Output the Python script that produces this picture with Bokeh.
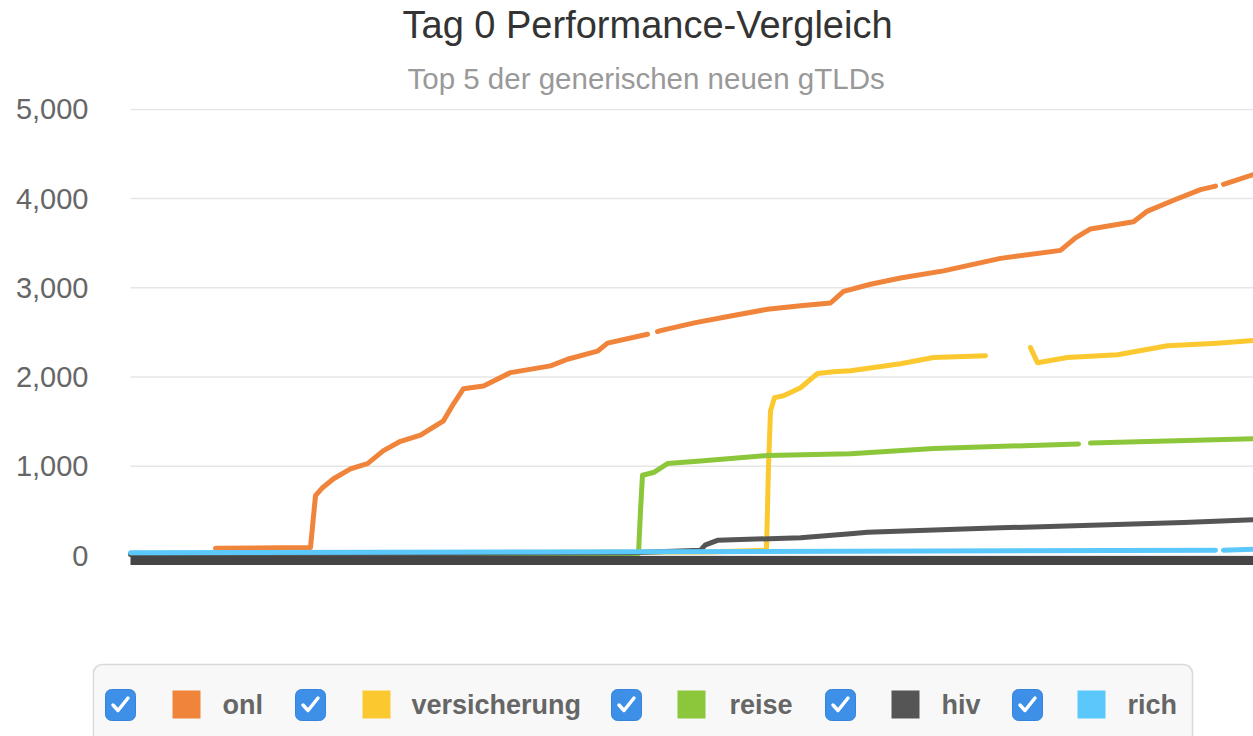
import math
from bokeh.plotting import figure
from bokeh.models import Range1d, NumeralTickFormatter, FixedTicker, Title
from bokeh.layouts import column
from bokeh.embed import file_html
from bokeh.resources import INLINE
from bokeh.core.properties import value

nan = float("nan")

# ---------------- data (x: time steps, y: registrations) ----------------
series_names = ["onl", "versicherung", "reise", "hiv", "rich"]
series_colors = ["#f0843a", "#fbc92f", "#8cc63a", "#555555", "#5ac8fa"]

onl_x = [8.5, 18.0, 18.5, 19.2, 20.3, 22.0, 23.7, 25.3, 27.0, 29.0, 31.3, 32.3, 33.3, 35.3,
         38.0, 42.0, 43.7, 46.7, 47.7, 51.7, 52.2, 52.7, 53.0, 56.5, 60.3, 63.7, 67.0, 70.0,
         71.3, 74.0, 77.0, 81.3, 87.0, 93.0, 94.5, 96.0, 100.3, 101.7, 104.5, 107.0, 108.5,
         109.0, 109.3, 112.3]
onl_y = [80, 90, 670, 760, 860, 970, 1030, 1175, 1280, 1350, 1510, 1700, 1870, 1900,
         2050, 2125, 2200, 2290, 2380, 2480, nan, 2510, 2520, 2610, 2690, 2760, 2800, 2830,
         2960, 3040, 3110, 3190, 3330, 3420, 3560, 3660, 3740, 3860, 3990, 4100, 4140,
         nan, 4160, 4270]

versicherung_x = [0.0, 58.0, 63.6, 63.8, 64.0, 64.4, 65.3, 67.0, 68.7, 70.3, 72.0, 77.0, 80.3,
                  85.5, 87.0, 90.0, 90.7, 93.7, 98.7, 103.7, 108.7, 112.3]
versicherung_y = [20, 40, 60, 1000, 1620, 1770, 1790, 1880, 2040, 2060, 2070, 2150, 2220,
                  2240, nan, 2330, 2160, 2220, 2250, 2350, 2380, 2410]

reise_x = [0.0, 50.8, 51.0, 51.2, 52.3, 53.7, 57.0, 63.7, 72.0, 80.3, 94.8, 95.4, 96.0, 112.3]
reise_y = [10, 20, 500, 900, 930, 1030, 1060, 1120, 1140, 1200, 1250, nan, 1260, 1310]

hiv_x = [0.0, 50.0, 57.0, 57.5, 58.7, 67.0, 72.0, 73.7, 87.0, 105.3, 112.3]
hiv_y = [10, 30, 60, 120, 170, 200, 245, 260, 310, 370, 400]

rich_x = [0.0, 40.0, 80.0, 108.5, 109.0, 109.3, 112.3]
rich_y = [30, 40, 50, 60, nan, 60, 70]

series_x = [onl_x, versicherung_x, reise_x, hiv_x, rich_x]
series_y = [onl_y, versicherung_y, reise_y, hiv_y, rich_y]

x_start, x_end = 0.0, 112.3
y_ticks = [0, 1000, 2000, 3000, 4000, 5000]

title_text = "Tag 0 Performance-Vergleich"
subtitle_text = "Top 5 der generischen neuen gTLDs"

FONT = "Liberation Sans"

# ---------------- main chart ----------------
p = figure(width=1253, height=656, output_backend="svg", toolbar_location=None,
           x_range=Range1d(-3.8, x_end), y_range=Range1d(-56, 5010),
           min_border_left=92, min_border_right=0, min_border_top=108, min_border_bottom=96,
           outline_line_color=None, background_fill_color="white", border_fill_color="white")

sub = Title(text=subtitle_text, align="left", offset=315, text_font=FONT,
            text_font_size="29.5px", text_font_style="normal", text_color="#999999", standoff=28)
ttl = Title(text=title_text, align="left", offset=310, text_font=FONT,
            text_font_size="38px", text_font_style="normal", text_color="#333333", standoff=0)
p.add_layout(sub, "above")
p.add_layout(ttl, "above")

# horizontal grid lines over the plotted x-extent
p.segment(x0=[x_start] * len(y_ticks), x1=[x_end] * len(y_ticks), y0=y_ticks, y1=y_ticks,
          line_color="#e6e6e6", line_width=1.5)

for xs, ys, c in zip(series_x, series_y, series_colors):
    p.line(xs, ys, line_color=c, line_width=5, line_join="round", line_cap="round")

p.yaxis.ticker = FixedTicker(ticks=y_ticks)
p.yaxis.formatter = NumeralTickFormatter(format="0,0")
p.yaxis.axis_line_color = None
p.yaxis.major_tick_line_color = None
p.yaxis.minor_tick_line_color = None
p.yaxis.major_tick_out = 0
p.yaxis.minor_tick_out = 0
p.yaxis.major_label_standoff = 4
p.yaxis.major_label_text_font = FONT
p.yaxis.major_label_text_font_size = "29px"
p.yaxis.major_label_text_color = "#666666"

p.xaxis.ticker = FixedTicker(ticks=[])
p.xaxis.bounds = (x_start, x_end)
p.xaxis.axis_line_color = "#454545"
p.xaxis.axis_line_width = 9
p.xaxis.major_tick_line_color = None
p.xaxis.minor_tick_line_color = None
p.xaxis.major_label_text_font_size = "0px"

p.grid.visible = False

# ---------------- legend (checkbox + colour square + label) ----------------
leg = figure(width=1253, height=80, output_backend="svg", toolbar_location=None,
             x_range=Range1d(92, 1253), y_range=Range1d(0, 80),
             x_axis_location=None, y_axis_location=None, min_border=0,
             min_border_left=92, min_border_right=0,
             outline_line_color=None, background_fill_color="white", border_fill_color="white")
leg.grid.visible = False

def ly(page_y):
    return 736 - page_y

# legend frame
leg.quad(left=[92.8], right=[1192], top=[ly(664)], bottom=[ly(790)],
         fill_color="#f8f8f8", line_color="#d9d9d9", line_width=1.5, border_radius=9)

check_cx = [120, 310, 626, 840, 1027]
square_cx = [186, 376, 691, 905, 1091]
label_x = [222, 411, 729, 941, 1127]
cy = 704

leg.quad(left=[c - 15 for c in check_cx], right=[c + 15 for c in check_cx],
         top=[ly(cy - 15)] * 5, bottom=[ly(cy + 16)] * 5,
         fill_color="#3d8fe8", line_color="#3584dc", line_width=1, border_radius=6)
leg.multi_line(xs=[[c - 7.5, c - 2.5, c + 7.5] for c in check_cx],
               ys=[[ly(cy + 0.5), ly(cy + 6), ly(cy - 6.5)] for _ in check_cx],
               line_color="white", line_width=3.5, line_cap="round", line_join="round")

leg.quad(left=[c - 14 for c in square_cx], right=[c + 14 for c in square_cx],
         top=[ly(cy - 14)] * 5, bottom=[ly(cy + 14)] * 5,
         fill_color=series_colors, line_color=None)

leg.text(x=label_x, y=[ly(cy)] * 5, text=series_names,
         text_font=value(FONT), text_font_size="27px", text_font_style="bold",
         text_color="#666666", text_baseline="middle", text_align="left")

layout = column(p, leg, spacing=0)
open("out.html", "w").write(file_html(layout, INLINE))
